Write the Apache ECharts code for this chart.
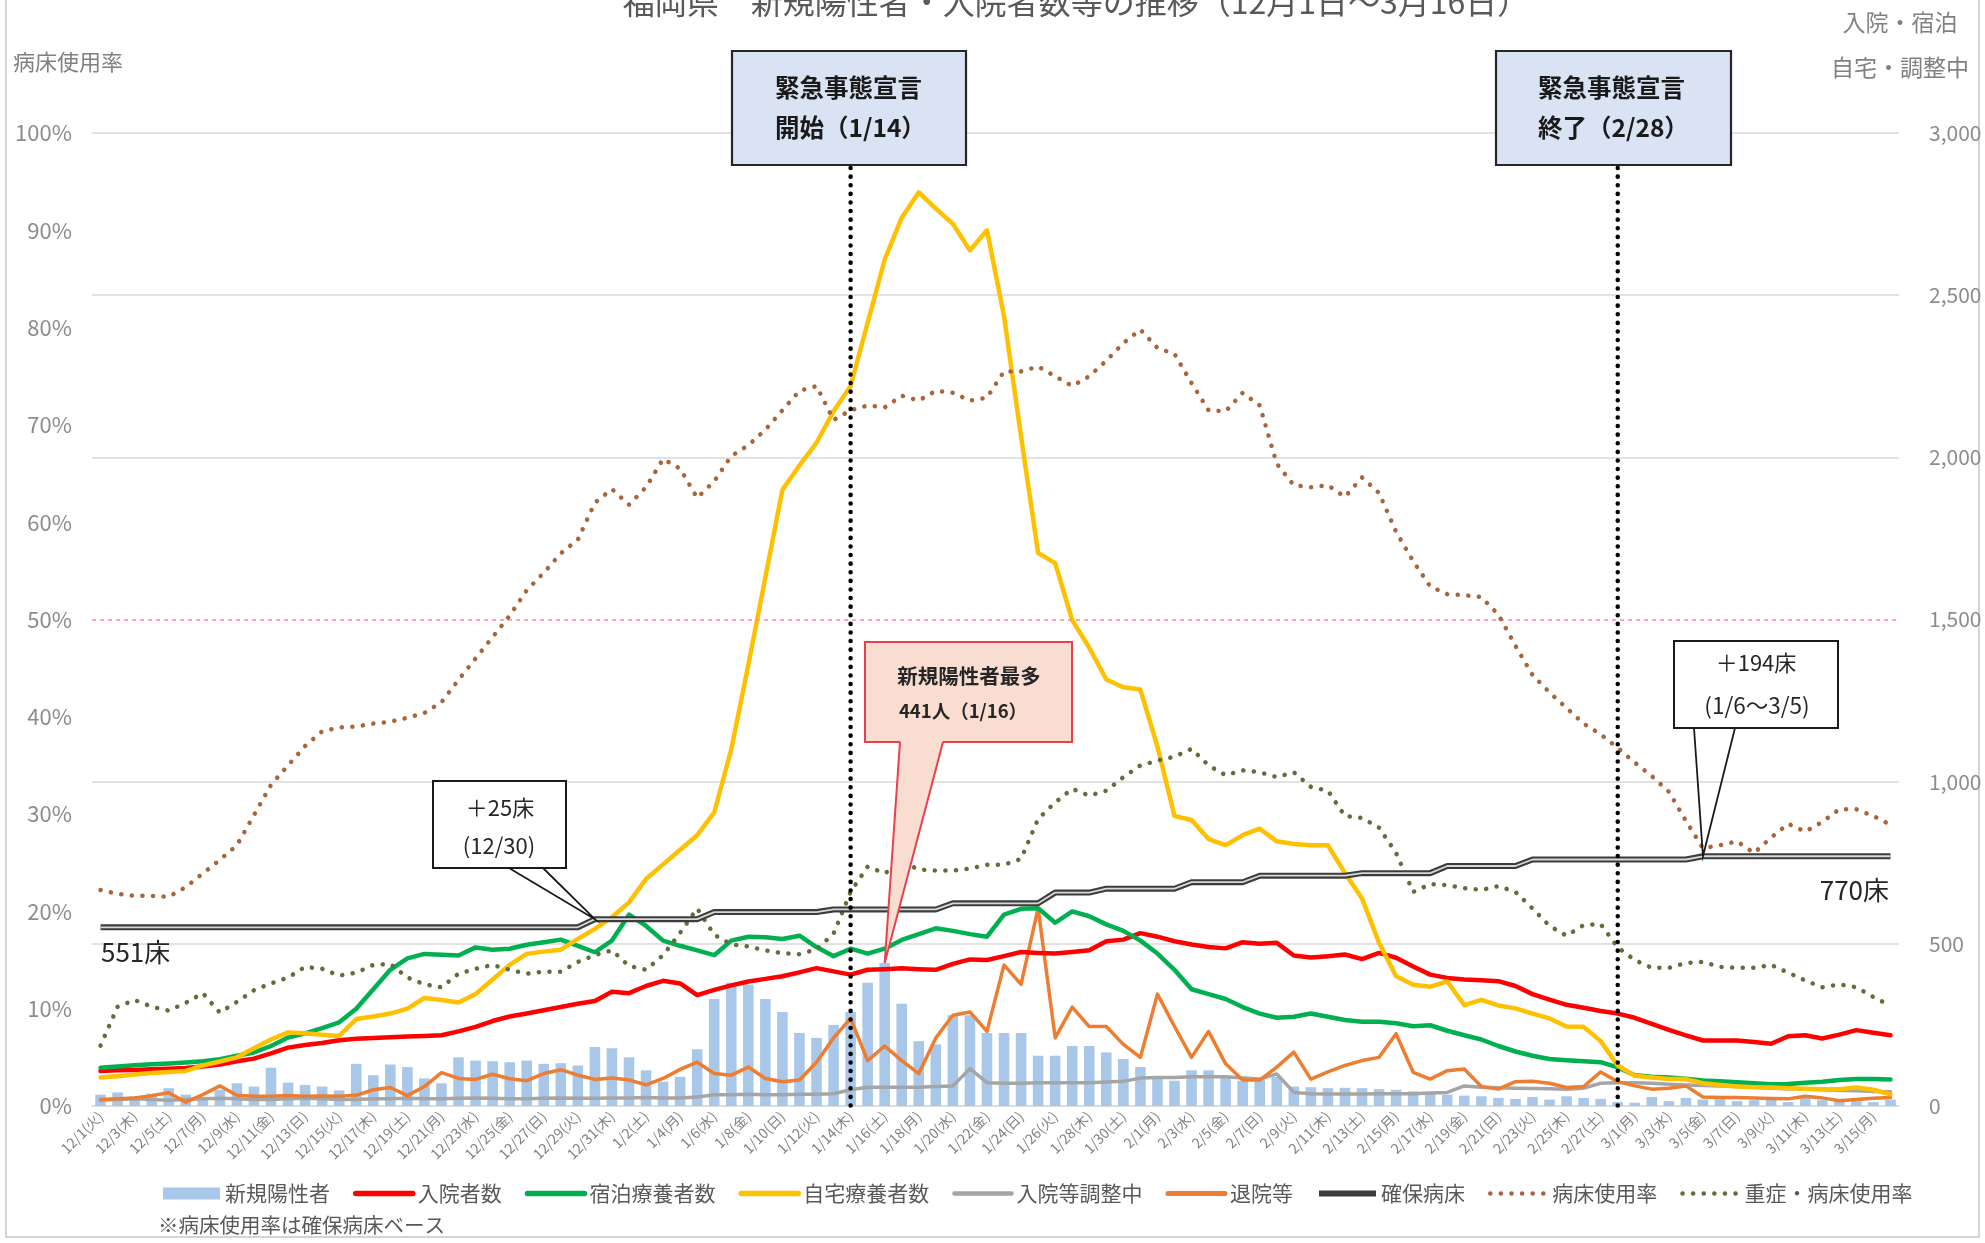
<!DOCTYPE html>
<html><head><meta charset="utf-8">
<script src="https://cdn.jsdelivr.net/npm/echarts@6/dist/echarts.min.js"></script>
<style>html,body{margin:0;padding:0;background:#fff}#c{width:1985px;height:1243px}</style>
</head><body><div id="c"></div>
<script>
const categories = [
'12/1(火)','12/2(水)','12/3(木)','12/4(金)','12/5(土)','12/6(日)','12/7(月)','12/8(火)','12/9(水)','12/10(木)',
'12/11(金)','12/12(土)','12/13(日)','12/14(月)','12/15(火)','12/16(水)','12/17(木)','12/18(金)','12/19(土)','12/20(日)',
'12/21(月)','12/22(火)','12/23(水)','12/24(木)','12/25(金)','12/26(土)','12/27(日)','12/28(月)','12/29(火)','12/30(水)',
'12/31(木)','1/1(金)','1/2(土)','1/3(日)','1/4(月)','1/5(火)','1/6(水)','1/7(木)','1/8(金)','1/9(土)',
'1/10(日)','1/11(月)','1/12(火)','1/13(水)','1/14(木)','1/15(金)','1/16(土)','1/17(日)','1/18(月)','1/19(火)',
'1/20(水)','1/21(木)','1/22(金)','1/23(土)','1/24(日)','1/25(月)','1/26(火)','1/27(水)','1/28(木)','1/29(金)',
'1/30(土)','1/31(日)','2/1(月)','2/2(火)','2/3(水)','2/4(木)','2/5(金)','2/6(土)','2/7(日)','2/8(月)',
'2/9(火)','2/10(水)','2/11(木)','2/12(金)','2/13(土)','2/14(日)','2/15(月)','2/16(火)','2/17(水)','2/18(木)',
'2/19(金)','2/20(土)','2/21(日)','2/22(月)','2/23(火)','2/24(水)','2/25(木)','2/26(金)','2/27(土)','2/28(日)',
'3/1(月)','3/2(火)','3/3(水)','3/4(木)','3/5(金)','3/6(土)','3/7(日)','3/8(月)','3/9(火)','3/10(水)',
'3/11(木)','3/12(金)','3/13(土)','3/14(日)','3/15(月)','3/16(火)'];

const newCases = [35,42,30,38,55,35,28,50,70,60, 118,72,65,60,48,130,95,128,120,85, 70,150,140,138,135,140,130,132,125,182,
 178,150,110,75,90,175,330,380,375,330, 290,225,210,250,290,380,441,315,200,190, 280,280,225,225,225,155,155,185,185,165,
 145,120,90,78,110,110,90,78,86,90, 60,58,55,56,55,52,50,45,40,35, 32,30,25,22,28,20,30,25,22,12,
 10,28,15,25,20,22,15,18,20,12, 25,18,22,15,12,20];

const hospitalized = [108,110,111,113,115,117,122,128,138,146, 162,180,188,194,203,207,210,212,214,216,
 218,230,244,262,276,285,295,305,315,324, 352,348,370,386,378,342,358,372,384,392,
 400,412,425,415,405,420,422,425,422,420, 438,452,450,462,475,472,470,475,480,508,
 513,533,522,508,498,490,486,505,500,503, 464,458,462,467,453,472,457,430,405,395,
 390,388,385,370,345,328,312,303,293,285, 272,253,235,218,202,202,202,197,192,215,
 218,208,220,234,226,218];

const hotel = [118,122,126,129,131,134,138,144,155,165, 185,211,224,240,258,300,360,420,455,469,
 466,464,489,482,485,497,505,513,494,474, 510,590,555,510,494,480,465,510,522,520,
 515,525,490,462,485,470,485,512,530,548, 540,530,522,590,608,610,565,600,585,560,
 540,510,470,420,360,345,330,305,285,272, 275,285,275,265,260,260,255,246,249,232,
 218,205,185,168,155,145,141,138,135,119, 95,90,88,84,79,76,73,70,67,68,
 72,75,80,83,83,82];

const home = [88,92,97,102,105,108,125,137,150,178, 205,227,224,220,216,268,276,285,300,333,
 327,319,345,390,435,469,476,482,515,546, 582,628,700,745,790,835,905,1100,1360,1630,
 1900,1975,2045,2142,2220,2415,2610,2739,2817,2767, 2720,2638,2700,2435,2064,1705,1674,1498,1413,1315,
 1291,1284,1108,894,882,823,804,835,855,816, 808,804,804,718,640,503,400,374,368,384,
 311,327,310,301,285,270,245,244,200,125, 93,88,83,83,70,65,60,58,57,55,
 53,52,52,57,50,36];

const adjusting = [18,20,22,20,18,20,22,24,22,20, 20,22,24,22,20,20,22,22,24,22,
 22,24,25,24,22,22,24,25,24,24, 25,25,26,25,25,28,35,35,36,35,
 35,36,36,38,50,58,58,58,58,60, 62,115,72,70,70,72,72,72,72,74,
 76,86,88,88,90,90,90,86,83,99, 42,38,37,37,37,38,38,38,40,42,
 62,58,56,55,54,53,52,55,70,72, 72,70,67,65,63,62,60,58,55,53,
 52,50,48,47,45,44];

const discharged = [20,22,25,32,41,12,35,62,33,30, 30,32,30,31,30,33,50,57,32,60,
 103,85,82,98,84,78,100,112,95,82, 86,80,65,85,113,135,100,95,120,85,
 75,80,135,210,270,140,185,140,100,210, 280,290,230,435,375,610,210,305,245,245,
 190,150,345,245,150,230,130,80,80,120, 166,83,105,125,140,150,223,104,83,109,
 114,60,52,75,76,70,57,60,105,75, 62,52,55,62,28,26,26,25,23,22,
 30,25,16,20,24,26];

const beds = [551,551,551,551,551,551,551,551,551,551, 551,551,551,551,551,551,551,551,551,551,
 551,551,551,551,551,551,551,551,551,576, 576,576,576,576,576,576,598,598,598,598,
 598,598,598,606,606,606,606,606,606,606, 625,625,625,625,625,625,658,658,658,670,
 670,670,670,670,690,690,690,690,710,710, 710,710,710,710,718,718,718,718,718,740,
 740,740,740,740,760,760,760,760,760,760, 760,760,760,760,770,770,770,770,770,770,
 770,770,770,770,770,770];

const bedRate = [22.2,21.8,21.6,21.6,21.5,22.5,23.9,25.3,26.8,29.9, 33.0,35.0,37.0,38.5,38.9,39.0,39.3,39.5,39.9,40.4,
 41.5,43.8,46.0,48.2,50.4,53.0,54.8,56.8,58.2,62.0, 63.4,61.8,63.6,66.5,65.5,62.5,64.2,66.8,67.9,69.5,
 71.5,73.5,74.0,70.5,71.5,72.0,71.8,73.0,72.5,73.5, 73.3,72.5,72.8,75.5,75.5,76.0,75.0,74.0,75.0,76.6,
 78.4,79.8,77.9,77.3,74.3,71.5,71.4,73.3,72.0,66.0, 63.8,63.6,63.8,62.6,64.6,63.0,59.0,56.0,53.4,52.6,
 52.5,52.3,50.5,47.3,44.3,42.5,40.9,39.3,38.2,36.8, 35.3,33.9,32.3,29.3,26.5,26.8,27.2,26.0,27.6,29.0,
 28.2,29.2,30.5,30.5,29.8,28.9];

const severeRate = [6.2,10.2,10.9,10.2,9.8,10.6,11.6,9.6,10.7,11.9, 12.6,13.2,14.3,14.1,13.4,13.7,14.5,14.6,13.2,12.5,
 12.2,13.6,14.1,14.5,14.0,13.6,13.8,13.8,14.8,15.5, 16.0,14.4,14.0,15.5,17.8,20.3,17.6,16.6,16.4,16.0,
 15.7,15.6,16.1,17.7,22.0,24.6,23.9,25.1,24.3,24.2, 24.2,24.4,24.8,24.8,25.4,29.5,31.2,32.6,31.9,32.4,
 33.8,35.0,35.5,35.9,36.7,35.0,34.0,34.5,34.3,33.8, 34.3,32.8,32.4,29.8,29.6,28.6,26.0,22.0,22.8,22.7,
 22.4,22.2,22.6,22.0,20.3,18.5,17.5,18.6,18.7,16.3, 15.0,14.2,14.2,14.7,14.8,14.3,14.2,14.2,14.5,13.7,
 12.9,12.2,12.5,12.2,11.2,10.3];

const leftTicks = {min:0, max:100, interval:10};
const rightTicks = {min:0, max:3000, interval:500};
const declStartIdx = 44, declEndIdx = 89;

const FONT = '"Noto Sans CJK JP", "Noto Sans", sans-serif';
const chart = echarts.init(document.getElementById('c'), null, {renderer:'canvas'});

function lineSeries(name, data, color, width, z){
  return {name, type:'line', yAxisIndex:1, data, symbol:'none', z: z||3,
    lineStyle:{color, width, cap:'round', join:'round'}, itemStyle:{color}};
}
function dotSeries(name, data, color){
  return {name, type:'line', yAxisIndex:0, data, symbol:'none', z:5,
    lineStyle:{color, width:4.5, type:[0.1, 10.5], cap:'round'}, itemStyle:{color}};
}
const legItem = (name, w, extra) => Object.assign({name, itemStyle:{opacity:0}, lineStyle:Object.assign({width:w}, extra||{})});

const option = {
  animation:false,
  textStyle:{fontFamily:FONT},
  grid:{left:92, right:86, top:133, bottom:137, containLabel:false},
  legend:{
    left:158, top:1178, itemWidth:57, itemHeight:12, itemGap:23,
    textStyle:{fontSize:21, color:'#595959', fontFamily:FONT},
    data:[{name:'新規陽性者', icon:'rect'},
      legItem('入院者数', 5.5), legItem('宿泊療養者数', 5.5), legItem('自宅療養者数', 5.5),
      legItem('入院等調整中', 4.5), legItem('退院等', 5), legItem('確保病床', 6),
      legItem('病床使用率', 4.5), legItem('重症・病床使用率', 4.5)]
  },
  xAxis:{type:'category', data:categories, boundaryGap:true,
    axisLine:{show:true, lineStyle:{color:'#d9d9d9', width:1.5}}, axisTick:{show:false},
    axisLabel:{interval:1, rotate:45, fontSize:14, color:'#808080', margin:8, fontFamily:FONT}},
  yAxis:[
    {type:'value', min:leftTicks.min, max:leftTicks.max, interval:leftTicks.interval, position:'left',
     axisLabel:{formatter:'{value}%', fontSize:22, color:'#8c8c8c', margin:20, fontFamily:FONT},
     axisLine:{show:false}, axisTick:{show:false}, splitLine:{show:false}},
    {type:'value', min:rightTicks.min, max:rightTicks.max, interval:rightTicks.interval, position:'right',
     axisLabel:{formatter:v=>v.toLocaleString('en-US'), fontSize:21, color:'#8c8c8c', margin:30, fontFamily:FONT},
     axisLine:{show:false}, axisTick:{show:false},
     splitLine:{show:true, lineStyle:{color:['#e0e0e0','#d9d9d9','#d9d9d9','rgba(0,0,0,0)','#d9d9d9','#d9d9d9','#d9d9d9'], width:1.5}}}
  ],
  series:[
    {name:'新規陽性者', type:'bar', yAxisIndex:1, data:newCases, barWidth:'62%', z:1,
     itemStyle:{color:'#a9c7e8'}},
    lineSeries('入院者数', hospitalized, '#ff0000', 4.5, 4),
    lineSeries('宿泊療養者数', hotel, '#00b050', 4.5, 4),
    lineSeries('自宅療養者数', home, '#ffc000', 4.5, 4),
    lineSeries('入院等調整中', adjusting, '#a5a5a5', 3.5, 3),
    lineSeries('退院等', discharged, '#ed7d31', 3.5, 3),
    {name:'確保病床', type:'line', yAxisIndex:1, data:beds, symbol:'none', z:6,
     lineStyle:{color:'#3c3c3c', width:6}, itemStyle:{color:'#3c3c3c'}},
    {name:'確保病床内', type:'line', yAxisIndex:1, data:beds, symbol:'none', z:7,
     lineStyle:{color:'#d8d8d8', width:1.8}, itemStyle:{color:'#d8d8d8'}},
    Object.assign(dotSeries('病床使用率', bedRate, '#a8653a'), {
      markLine:{silent:true, symbol:'none', label:{show:false},
        lineStyle:{color:'#ff8a95', width:1.5, type:[4,4]}, data:[{yAxis:50}]}}),
    dotSeries('重症・病床使用率', severeRate, '#5f6e3b')
  ]
};
chart.setOption(option);

const pt = (i, v) => chart.convertToPixel({xAxisIndex:0, yAxisIndex:1}, [categories[i], v]);
const p25 = pt(29, beds[29]);
const p194 = pt(94, beds[94]);
const p441 = pt(46, newCases[46]);
const xStart = pt(declStartIdx, 0)[0];
const xEnd = pt(declEndIdx, 0)[0];

const T = (text, x, y, size, opts) => Object.assign({type:'text', z:120, x, y,
  style:Object.assign({text, fontSize:size, fontFamily:FONT, fill:'#262626', textAlign:'left', textVerticalAlign:'middle'}, (opts||{}).style||{})});
const dotted = (x) => ({type:'line', z:100, shape:{x1:x, y1:168, x2:x, y2:1114},
  style:{stroke:'#000', lineWidth:4.5, lineDash:[0.1, 8.5], lineCap:'round'}});

const graphic = [
  {type:'rect', z:0, shape:{x:6, y:-10, width:1973, height:1247}, style:{fill:'none', stroke:'#d4d4d4', lineWidth:2}},
  T('福岡県　新規陽性者・入院者数等の推移（12月1日～3月16日）', 1076, 2, 32, {style:{textAlign:'center', fill:'#595959'}}),
  T('病床使用率', 13, 62, 22, {style:{fill:'#808080'}}),
  T('入院・宿泊', 1900, 22, 23, {style:{textAlign:'center', fill:'#808080'}}),
  T('自宅・調整中', 1900, 67, 23, {style:{textAlign:'center', fill:'#808080'}}),
  dotted(xStart), dotted(xEnd),
  // declaration boxes
  {type:'rect', z:110, shape:{x:732, y:51, width:234, height:114}, style:{fill:'#dae3f3', stroke:'#262626', lineWidth:2.2}},
  T('緊急事態宣言', 775, 88, 24.5, {style:{fontWeight:'bold', fill:'#1a1a1a'}}),
  T('開始（1/14）', 775, 128, 24.5, {style:{fontWeight:'bold', fill:'#1a1a1a'}}),
  {type:'rect', z:110, shape:{x:1496, y:51, width:235, height:114}, style:{fill:'#dae3f3', stroke:'#262626', lineWidth:2.2}},
  T('緊急事態宣言', 1538, 88, 24.5, {style:{fontWeight:'bold', fill:'#1a1a1a'}}),
  T('終了（2/28）', 1538, 128, 24.5, {style:{fontWeight:'bold', fill:'#1a1a1a'}}),
  // 441 callout
  {type:'rect', z:110, shape:{x:865, y:642, width:207, height:100}, style:{fill:'#f9ddd0', stroke:'#e8404c', lineWidth:2}},
  {type:'polygon', z:111, shape:{points:[[900,740.5],[p441[0],p441[1]],[943,740.5]]}, style:{fill:'#f9ddd0'}},
  {type:'polyline', z:112, shape:{points:[[900,742],[p441[0],p441[1]],[943,742]]}, style:{stroke:'#e8404c', lineWidth:2, fill:null}},
  T('新規陽性者最多', 969, 676, 20.5, {style:{textAlign:'center', fontWeight:'bold', fill:'#262626'}}),
  T('441人（1/16）', 963, 711, 18.5, {style:{textAlign:'center', fontWeight:'bold', fill:'#262626'}}),
  // +25 callout
  {type:'rect', z:110, shape:{x:433, y:781, width:133, height:87}, style:{fill:'#fff', stroke:'#1a1a1a', lineWidth:2}},
  {type:'polyline', z:112, shape:{points:[[509,868],[p25[0],p25[1]],[543,868]]}, style:{stroke:'#1a1a1a', lineWidth:1.8, fill:null}},
  T('＋25床', 500, 808, 22, {style:{textAlign:'center'}}),
  T('(12/30)', 499, 846, 22, {style:{textAlign:'center'}}),
  // +194 callout
  {type:'rect', z:110, shape:{x:1674, y:641, width:164, height:87}, style:{fill:'#fff', stroke:'#1a1a1a', lineWidth:2}},
  {type:'polyline', z:112, shape:{points:[[1694,728],[p194[0],p194[1]],[1735,728]]}, style:{stroke:'#1a1a1a', lineWidth:1.8, fill:null}},
  T('＋194床', 1756, 663, 22, {style:{textAlign:'center'}}),
  T('(1/6～3/5)', 1757, 705, 22.5, {style:{textAlign:'center'}}),
  // bed labels
  T('551床', 101, 952, 26, {style:{fill:'#262626'}}),
  T('770床', 1889, 890, 26, {style:{textAlign:'right', fill:'#262626'}}),
  // footnote
  T('※病床使用率は確保病床ベース', 158, 1225, 20.5, {style:{fill:'#595959'}})
];
chart.setOption({graphic});
</script></body></html>
